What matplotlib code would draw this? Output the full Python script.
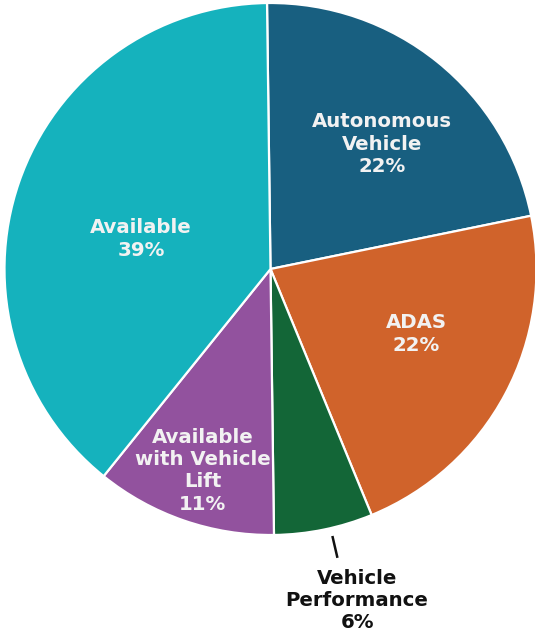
import matplotlib
matplotlib.use("Agg")
import matplotlib.pyplot as plt
import numpy as np

categories = ["Autonomous\nVehicle", "ADAS", "Vehicle\nPerformance", "Available\nwith Vehicle\nLift", "Available"]
values = [22, 22, 6, 11, 39]
colors = ["#185f80", "#d0632b", "#136637", "#92529e", "#15b2bd"]

W, H = 535, 639
fig = plt.figure(figsize=(W / 100, H / 100), dpi=100)
ax = fig.add_axes([0, 0, 1, 1])
ax.set_xlim(0, W)
ax.set_ylim(0, H)
ax.set_aspect("equal")
ax.axis("off")

cx, cy, R = 270.5, H - 269, 266
wedges, _ = ax.pie(values, colors=colors, startangle=90.75, counterclock=False,
                   center=(cx, cy), radius=R, frame=True,
                   wedgeprops=dict(edgecolor="white", linewidth=1.6))
ax.set_xlim(0, W)
ax.set_ylim(0, H)
ax.axis("off")

# label radius fraction and angular tweak per slice
rfrac = [0.63, 0.60, None, 0.80, 0.50]
dang = [-3, 4, 0, 0.5, 6]
fs = 14.2
for i, (w, lab, v) in enumerate(zip(wedges, categories, values)):
    mid = (w.theta1 + w.theta2) / 2
    text = f"{lab}\n{v}%"
    if rfrac[i] is None:
        a = np.deg2rad(mid + 1.5)
        x0, y0 = cx + 1.035 * R * np.cos(a), cy + 1.035 * R * np.sin(a)
        x1, y1 = cx + 1.11 * R * np.cos(a), cy + 1.11 * R * np.sin(a)
        ax.plot([x0, x1], [y0, y1], color="#111111", lw=1.8)
        ax.text(x1 + 20, y1 - 44, text, ha="center", va="center", fontsize=fs,
                fontweight="heavy", color="#111111", linespacing=1.22)
    else:
        a = np.deg2rad(mid + dang[i])
        r = rfrac[i] * R
        ax.text(cx + r * np.cos(a), cy + r * np.sin(a), text, ha="center", va="center",
                fontsize=fs, fontweight="heavy", color="#f2f2f2", linespacing=1.22)

fig.savefig("out.png", dpi=100, facecolor="white")
